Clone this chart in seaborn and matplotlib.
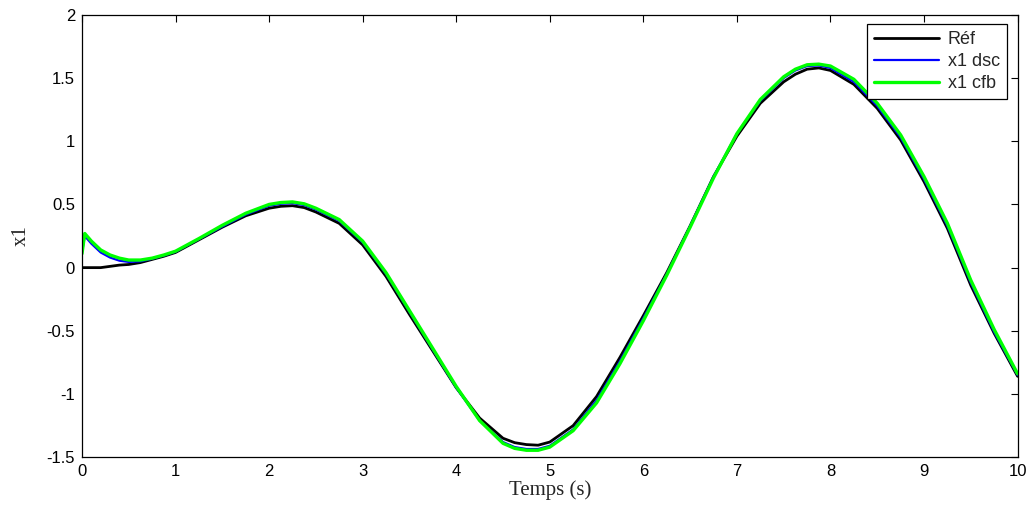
import numpy as np
import pandas as pd
import matplotlib
matplotlib.use("Agg")
import matplotlib.pyplot as plt
import seaborn as sns

t = [0, 0.03, 0.1, 0.2, 0.3, 0.4, 0.5, 0.625, 0.75, 0.875, 1.0, 1.25, 1.5, 1.75,
     2.0, 2.125, 2.25, 2.375, 2.5, 2.75, 3.0, 3.25, 3.5, 3.75, 4.0, 4.25, 4.5,
     4.625, 4.75, 4.875, 5.0, 5.25, 5.5, 5.75, 6.0, 6.25, 6.5, 6.75, 7.0, 7.25,
     7.5, 7.625, 7.75, 7.875, 8.0, 8.25, 8.5, 8.75, 9.0, 9.25, 9.5, 9.75, 10.0]

ref = [0, 0, 0, 0.0, 0.01, 0.02, 0.025, 0.04, 0.065, 0.09, 0.12, 0.22, 0.32, 0.41,
       0.47, 0.485, 0.49, 0.475, 0.44, 0.35, 0.18, -0.07, -0.37, -0.66, -0.95,
       -1.19, -1.35, -1.385, -1.40, -1.405, -1.38, -1.25, -1.02, -0.71, -0.38,
       -0.04, 0.33, 0.72, 1.04, 1.30, 1.47, 1.53, 1.57, 1.58, 1.56, 1.45, 1.26,
       1.01, 0.68, 0.31, -0.14, -0.52, -0.86]

x1_dsc = [0.12, 0.25, 0.19, 0.12, 0.08, 0.055, 0.045, 0.05, 0.07, 0.095, 0.125,
          0.225, 0.325, 0.42, 0.49, 0.505, 0.51, 0.495, 0.46, 0.37, 0.20, -0.05,
          -0.35, -0.65, -0.95, -1.21, -1.38, -1.42, -1.435, -1.435, -1.41, -1.28,
          -1.05, -0.74, -0.40, -0.05, 0.33, 0.72, 1.06, 1.32, 1.50, 1.56, 1.595,
          1.60, 1.58, 1.47, 1.28, 1.03, 0.70, 0.33, -0.12, -0.51, -0.85]

x1_cfb = [0.11, 0.27, 0.21, 0.14, 0.10, 0.075, 0.06, 0.06, 0.075, 0.10, 0.13,
          0.23, 0.335, 0.43, 0.50, 0.515, 0.52, 0.505, 0.47, 0.38, 0.21, -0.04,
          -0.34, -0.64, -0.94, -1.21, -1.39, -1.43, -1.445, -1.445, -1.42, -1.29,
          -1.07, -0.76, -0.42, -0.06, 0.32, 0.71, 1.06, 1.33, 1.51, 1.57, 1.605,
          1.61, 1.595, 1.49, 1.30, 1.05, 0.72, 0.35, -0.10, -0.49, -0.84]

labels = ["Réf", "x1 dsc", "x1 cfb"]
colors = ["#000000", "#0000ff", "#00ff00"]
widths = [2.0, 1.6, 2.4]

xticks = [0, 1, 2, 3, 4, 5, 6, 7, 8, 9, 10]
yticks = [-1.5, -1, -0.5, 0, 0.5, 1, 1.5, 2]
ytick_labels = ["-1.5", "-1", "-0.5", "0", "0.5", "1", "1.5", "2"]

sns.set_style("white")
plt.rcParams["font.family"] = ["Liberation Sans", "DejaVu Sans"]
plt.rcParams["axes.unicode_minus"] = False

df = pd.DataFrame({"t": t, labels[0]: ref, labels[1]: x1_dsc, labels[2]: x1_cfb})

fig = plt.figure(figsize=(10.31, 5.12), dpi=100)
ax = fig.add_axes([0.0795, 0.107, 0.9075, 0.864])

for lab, col, lw in zip(labels, colors, widths):
    sns.lineplot(data=df, x="t", y=lab, ax=ax, color=col, linewidth=lw,
                 label=lab, estimator=None, sort=False)

ax.set_xlim(0, 10)
ax.set_ylim(-1.5, 2)
ax.set_xticks(xticks)
ax.set_xticklabels([str(v) for v in xticks])
ax.set_yticks(yticks)
ax.set_yticklabels(ytick_labels)
ax.tick_params(direction="in", top=True, right=True, length=5, width=0.8,
               labelsize=12, colors="black", pad=5)
for s in ax.spines.values():
    s.set_color("black")
    s.set_linewidth(0.9)

ax.set_xlabel("Temps (s)", family="Liberation Serif", fontsize=15, labelpad=1)
ax.set_ylabel("x1", family="Liberation Serif", fontsize=15, labelpad=11)

leg = ax.legend(loc="upper right", bbox_to_anchor=(0.989, 0.98), borderaxespad=0,
                frameon=True, fancybox=False, shadow=False, fontsize=13,
                handlelength=3.6, handletextpad=0.5, labelspacing=0.28,
                borderpad=0.4)
leg.get_frame().set_edgecolor("black")
leg.get_frame().set_linewidth(0.9)
leg.get_frame().set_alpha(1)

fig.savefig("out.png", dpi=100, facecolor="white")
